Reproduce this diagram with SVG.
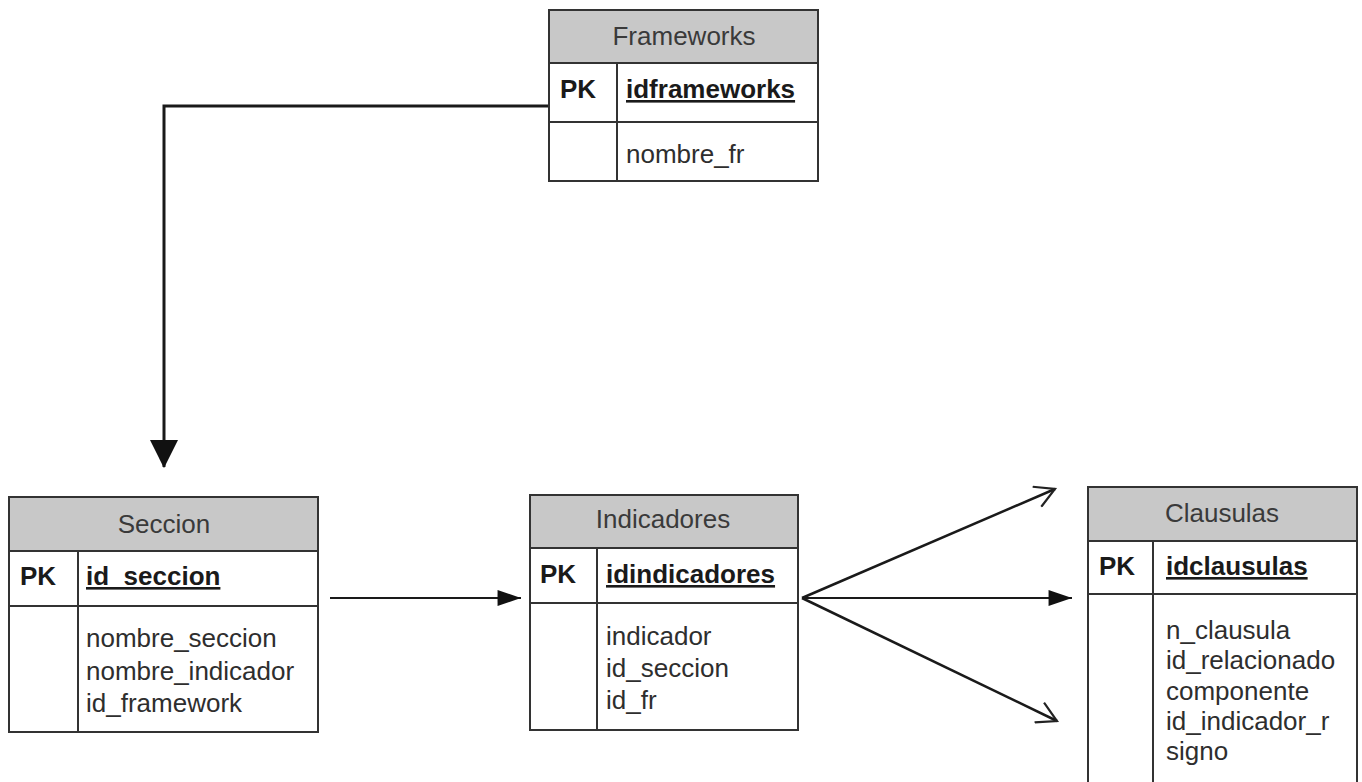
<svg xmlns="http://www.w3.org/2000/svg" width="1362" height="782" viewBox="0 0 1362 782">
<defs>
<style>
.box{fill:#ffffff;stroke:#333333;stroke-width:2}
.hdr{fill:#c8c8c8;stroke:#333333;stroke-width:2}
.ln{stroke:#333333;stroke-width:2;fill:none}
.t{font-family:"Liberation Sans",Arial,sans-serif;font-size:26px;fill:#2e2e2e}
.h{text-anchor:middle;fill:#3a3a3a}
.b{font-weight:bold;fill:#1a1a1a}
.u{text-decoration:underline}
.c{stroke:#1a1a1a;fill:none}
</style>
<marker id="fillBig" markerUnits="userSpaceOnUse" markerWidth="28" markerHeight="28" viewBox="0 0 26 26" refX="25" refY="13" orient="auto">
<path d="M0,0 L26,13 L0,26 Z" fill="#111"/>
</marker>
<marker id="fill" markerUnits="userSpaceOnUse" markerWidth="24" markerHeight="16" viewBox="0 0 22 15" refX="22" refY="7.5" orient="auto">
<path d="M0,0 L22,7.5 L0,15 Z" fill="#111"/>
</marker>
<marker id="open" markerUnits="userSpaceOnUse" markerWidth="24" markerHeight="24" viewBox="0 0 22 22" refX="20" refY="11" orient="auto">
<path d="M2,1 L20,11 L2,21" fill="none" stroke="#222" stroke-width="2"/>
</marker>
</defs>
<rect width="1362" height="782" fill="#ffffff"/>

<g id="connectors">
<path class="c" d="M549,106 L164,106 L164,467" stroke-width="3" marker-end="url(#fillBig)"/>
<path class="c" d="M330,598 L521,598" stroke-width="2" marker-end="url(#fill)"/>
<path class="c" d="M802,598 L1072,598" stroke-width="2" marker-end="url(#fill)"/>
<path class="c" d="M802,598 L1055,489" stroke-width="2.5" marker-end="url(#open)"/>
<path class="c" d="M802,598 L1057,721" stroke-width="2.5" marker-end="url(#open)"/>
</g>

<g id="frameworks">
<rect class="box" x="549" y="10" width="269" height="171"/>
<rect class="hdr" x="549" y="10" width="269" height="53"/>
<line class="ln" x1="549" y1="122" x2="818" y2="122"/>
<line class="ln" x1="617" y1="63" x2="617" y2="181"/>
<text class="t h" x="684" y="45">Frameworks</text>
<text class="t b" x="560" y="98">PK</text>
<text class="t b u" x="626" y="98">idframeworks</text>
<text class="t" x="626" y="163">nombre_fr</text>
</g>

<g id="seccion">
<rect class="box" x="9" y="497" width="309" height="235"/>
<rect class="hdr" x="9" y="497" width="309" height="54"/>
<line class="ln" x1="9" y1="606" x2="318" y2="606"/>
<line class="ln" x1="78" y1="551" x2="78" y2="732"/>
<text class="t h" x="164" y="533">Seccion</text>
<text class="t b" x="20" y="585">PK</text>
<text class="t b u" x="86" y="585">id_seccion</text>
<text class="t" x="86" y="647">nombre_seccion</text>
<text class="t" x="86" y="680">nombre_indicador</text>
<text class="t" x="86" y="712">id_framework</text>
</g>

<g id="indicadores">
<rect class="box" x="530" y="495" width="268" height="235"/>
<rect class="hdr" x="530" y="495" width="268" height="53"/>
<line class="ln" x1="530" y1="603" x2="798" y2="603"/>
<line class="ln" x1="597" y1="548" x2="597" y2="730"/>
<text class="t h" x="663" y="528">Indicadores</text>
<text class="t b" x="540" y="583">PK</text>
<text class="t b u" x="606" y="583">idindicadores</text>
<text class="t" x="606" y="645">indicador</text>
<text class="t" x="606" y="677">id_seccion</text>
<text class="t" x="606" y="709">id_fr</text>
</g>

<g id="clausulas">
<rect class="box" x="1088" y="487" width="269" height="310"/>
<rect class="hdr" x="1088" y="487" width="269" height="54"/>
<line class="ln" x1="1088" y1="594" x2="1357" y2="594"/>
<line class="ln" x1="1153" y1="541" x2="1153" y2="797"/>
<text class="t h" x="1222" y="522">Clausulas</text>
<text class="t b" x="1099" y="575">PK</text>
<text class="t b u" x="1166" y="575">idclausulas</text>
<text class="t" x="1166" y="639">n_clausula</text>
<text class="t" x="1166" y="669">id_relacionado</text>
<text class="t" x="1166" y="700">componente</text>
<text class="t" x="1166" y="730">id_indicador_r</text>
<text class="t" x="1166" y="760">signo</text>
</g>
</svg>
